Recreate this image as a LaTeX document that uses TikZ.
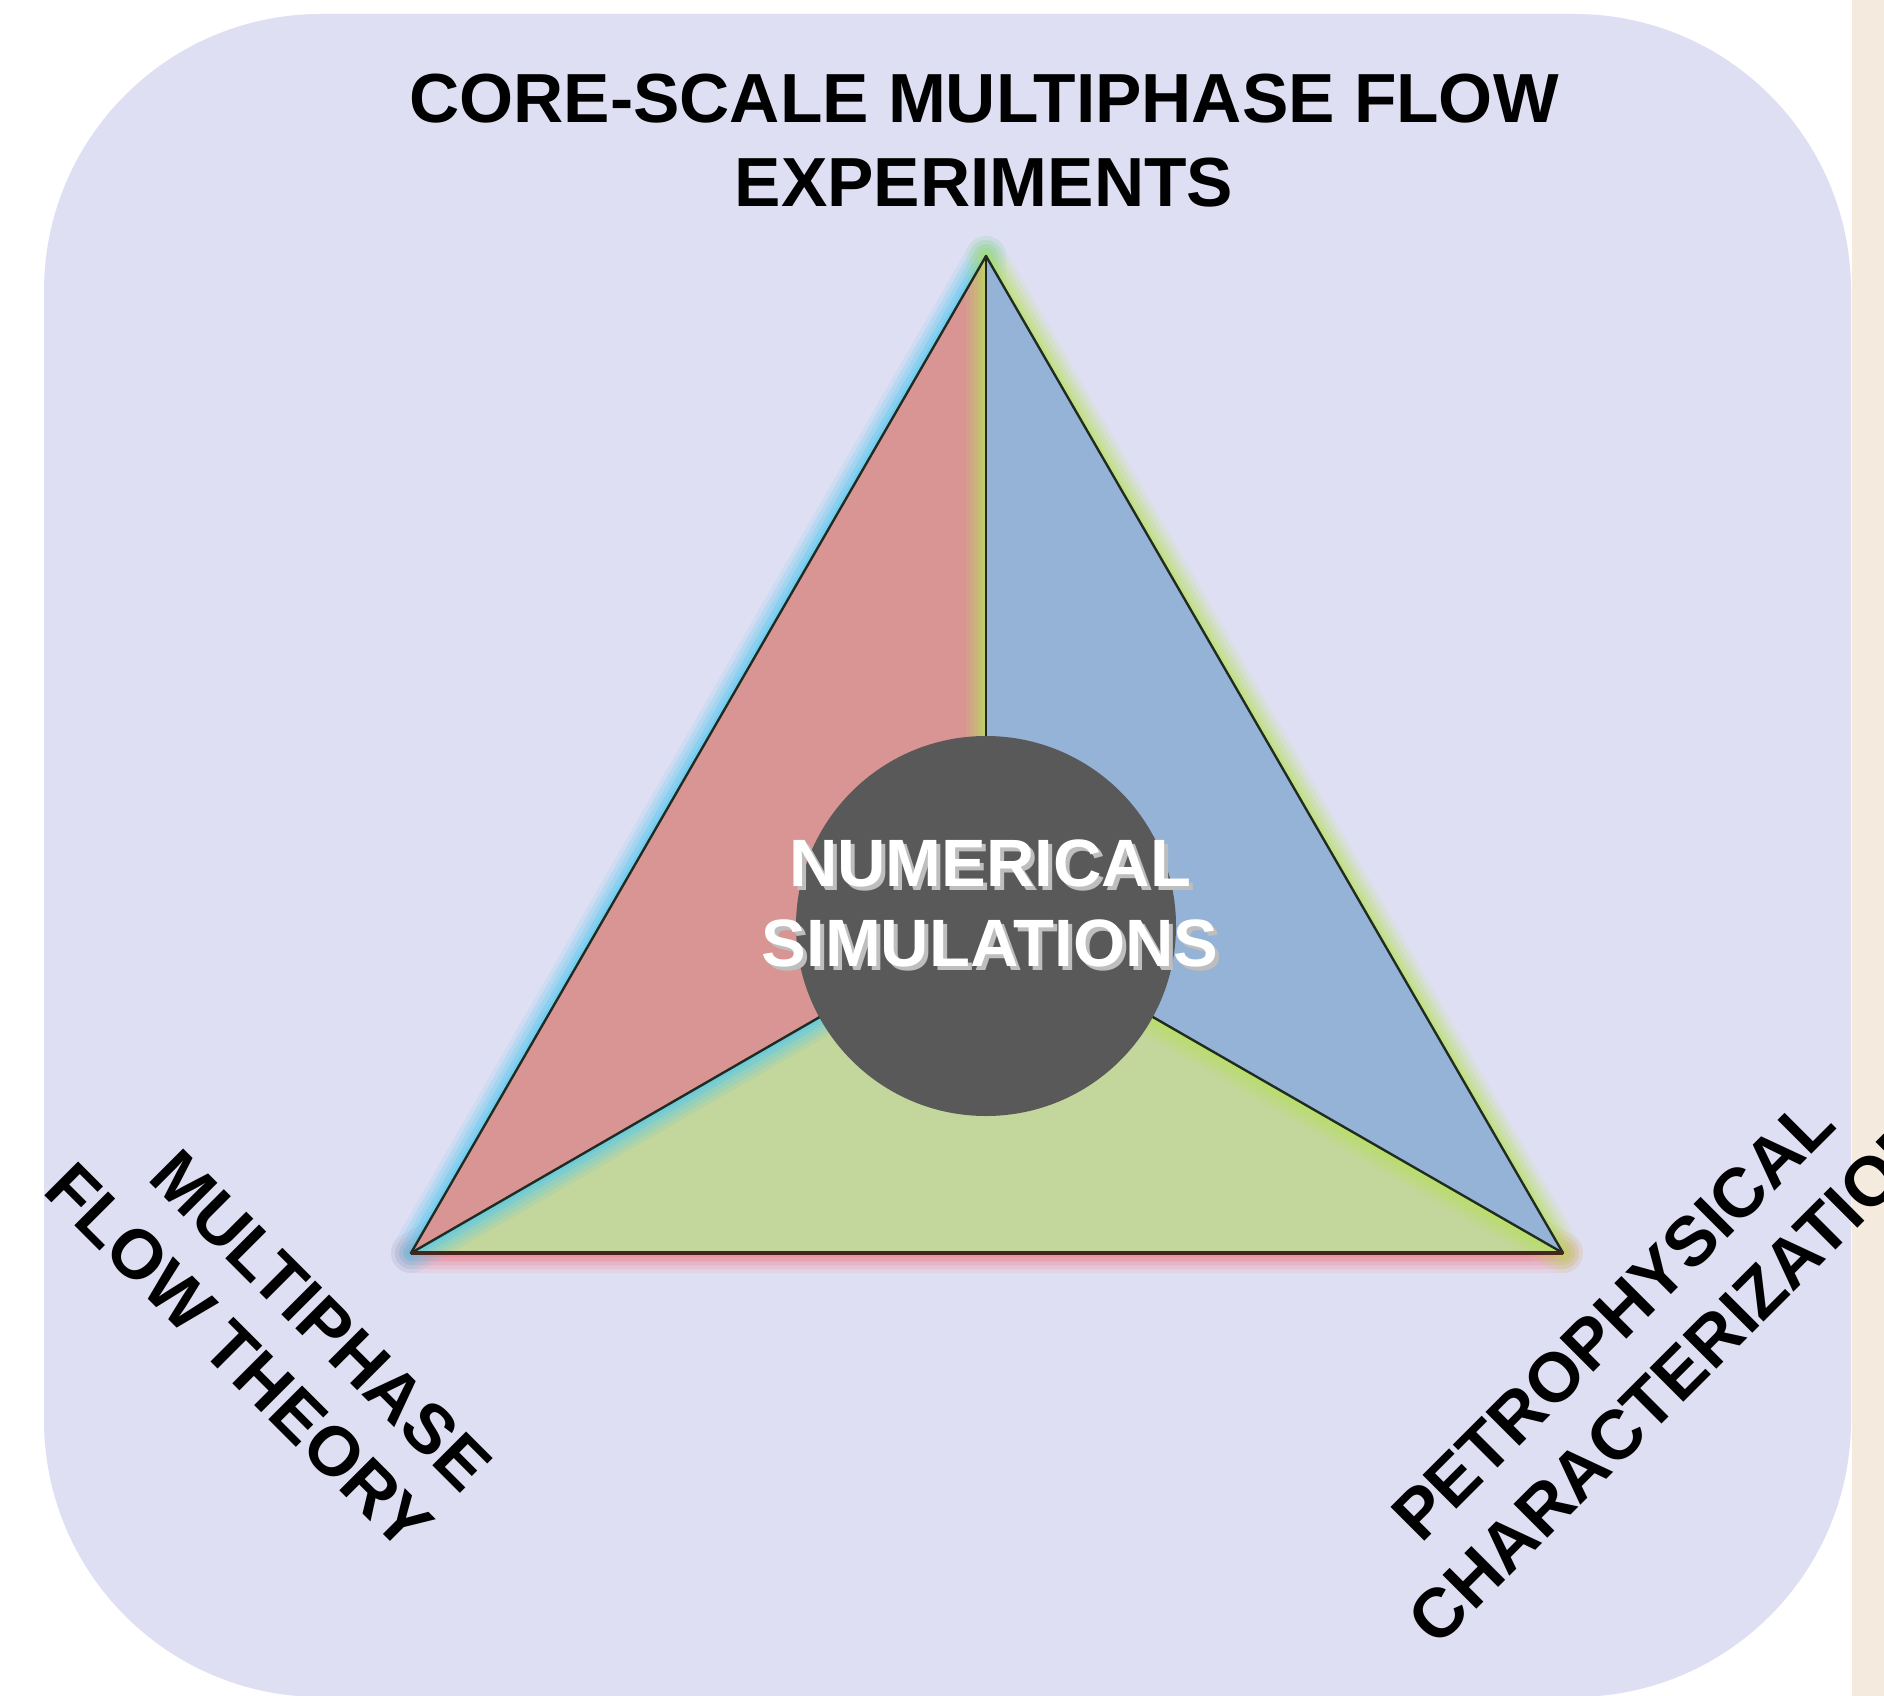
\documentclass[tikz,border=0pt]{standalone}
\usepackage{fontspec}
\setmainfont{Liberation Sans}

\definecolor{panel}{RGB}{223,223,243}
\definecolor{strip}{RGB}{245,234,222}
\definecolor{wedgeRed}{RGB}{217,149,148}
\definecolor{wedgeBlue}{RGB}{149,179,215}
\definecolor{wedgeGreen}{RGB}{195,214,155}
\definecolor{core}{RGB}{89,89,89}
\definecolor{edgeline}{RGB}{32,44,34}
\definecolor{baseline}{RGB}{70,38,28}
\definecolor{glowCyan}{RGB}{80,200,240}
\definecolor{glowLime}{RGB}{185,225,95}
\definecolor{glowPink}{RGB}{240,120,135}
\definecolor{shadowgray}{RGB}{190,190,190}

% soft halo around a triangular wedge
\newcommand\haloWedge[4]{%
  \foreach \w/\o in {40/0.12,32/0.16,24/0.20,16/0.28,8/0.36}{%
    \draw[line width=\w pt, draw=#1, opacity=\o, line join=round] #2 -- #3 -- #4 -- cycle;
  }%
}

\tikzset{
  head/.style={font=\fontsize{69.5}{84}\selectfont\bfseries, inner sep=0pt, text=black},
  coretxt/.style={font=\fontsize{67}{80}\selectfont\bfseries, inner sep=0pt},
  spoke/.style={draw=edgeline, line width=2.4pt, line cap=round, line join=round}
}

\begin{document}
\begin{tikzpicture}[x=1pt, y=-1pt]
  % page
  \fill[white] (0,0) rectangle (1884,1696);
  \useasboundingbox (0,0) rectangle (1884,1696);

  % lavender panel and side strip
  \fill[panel, rounded corners=277pt] (44,14) rectangle (1851,1697);
  \fill[strip] (1852,0) rectangle (1884,1696);

  % triangle corners and meeting point
  \coordinate (A) at (986,256);
  \coordinate (B) at (411,1253);
  \coordinate (C) at (1563,1253);
  \coordinate (O) at (986,921);

  % wedges with halos, bottom wedge first
  \haloWedge{glowPink}{(B)}{(O)}{(C)}
  \fill[wedgeGreen] (B) -- (O) -- (C) -- cycle;
  \haloWedge{glowCyan}{(A)}{(B)}{(O)}
  \fill[wedgeRed] (A) -- (B) -- (O) -- cycle;
  \haloWedge{glowLime}{(A)}{(O)}{(C)}
  \fill[wedgeBlue] (A) -- (O) -- (C) -- cycle;

  % outlines
  \draw[spoke] (A) -- (B);
  \draw[spoke] (A) -- (C);
  \draw[spoke] (A) -- (O);
  \draw[spoke] (B) -- (O);
  \draw[spoke] (C) -- (O);
  \draw[draw=baseline, line width=3.2pt] (B) -- (C);

  % central disc
  \node[circle, fill=core, minimum size=380pt, inner sep=0pt] (sim) at (986,926) {};
  \node[coretxt, text=shadowgray, anchor=base] (numS) at (994,890) {NUMERICAL};
  \node[coretxt, text=shadowgray, anchor=base] (simS) at (994,970) {SIMULATIONS};
  \node[coretxt, text=white, anchor=base] (num) at (990,886) {NUMERICAL};
  \node[coretxt, text=white, anchor=base] (simtxt) at (990,966) {SIMULATIONS};

  % headings
  \node[head, anchor=base] (t1) at (984,123) {CORE-SCALE MULTIPHASE FLOW};
  \node[head, anchor=base] (t2) at (984,207) {EXPERIMENTS};

  \node[head, anchor=base east, rotate=-45] (l1) at (462,1495) {MULTIPHASE};
  \node[head, anchor=base east, rotate=-45] (l2) at (403,1554) {FLOW THEORY};

  \node[head, anchor=base, rotate=45] (r1) at (1630,1336) {PETROPHYSICAL};
  \node[head, anchor=base, rotate=45] (r2) at (1690,1396) {CHARACTERIZATION};
\end{tikzpicture}
\end{document}
